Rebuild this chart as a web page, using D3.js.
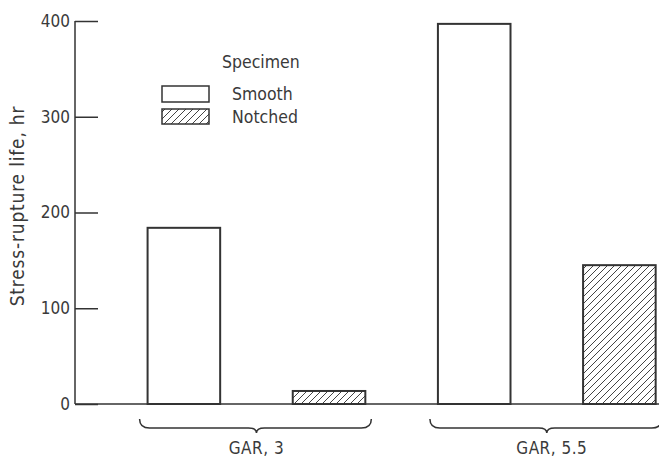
<!DOCTYPE html>
<html>
<head>
<meta charset="utf-8">
<script src="https://cdn.jsdelivr.net/npm/d3@7"></script>
<style>
  body { margin: 0; background: #fff; }
  text { font-family: "DejaVu Sans Condensed", "DejaVu Sans", sans-serif; fill: #3a3a3a; }
</style>
</head>
<body>
<svg id="chart" width="659" height="458"></svg>
<script>
// data
var groups = ["GAR, 3", "GAR, 5.5"];
var specimens = ["Smooth", "Notched"];
var smoothLife = [184, 397];
var notchedLife = [13.6, 145];
var yTicks = [0, 100, 200, 300, 400];

var ink = "#333";
var svg = d3.select("#chart");

var margin = {top: 21, left: 75, bottom: 54};
var height = 458 - margin.top - margin.bottom;

var rows = [];
groups.forEach(function(g, i) {
  rows.push({group: g, specimen: "Smooth", value: smoothLife[i]});
  rows.push({group: g, specimen: "Notched", value: notchedLife[i]});
});

var x0 = d3.scaleBand().domain(groups)
    .range([0, 653.25]).paddingInner(0.25).paddingOuter(0.25);
var x1 = d3.scaleBand().domain(specimens)
    .range([0, x0.bandwidth()]).paddingInner(0.5).paddingOuter(0);
var y = d3.scaleLinear().domain([0, 400]).range([height, 0]);

// hatch for notched
var defs = svg.append("defs");
defs.append("pattern")
    .attr("id", "hatch")
    .attr("patternUnits", "userSpaceOnUse")
    .attr("width", 7).attr("height", 7)
  .append("path")
    .attr("d", "M-1,1 l2,-2 M0,7 l7,-7 M6,8 l2,-2")
    .attr("stroke", "#444")
    .attr("stroke-width", 1);

var g = svg.append("g")
    .attr("transform", "translate(" + margin.left + "," + margin.top + ")");

// y axis, ticks pointing inward
var yAxis = d3.axisLeft(y).tickValues(yTicks).tickSize(-23).tickPadding(6);
var ax = g.append("g").attr("class", "axis axis--y").call(yAxis);
ax.select(".domain").remove();
ax.selectAll(".tick line").attr("stroke", ink).attr("stroke-width", 1.5);
ax.selectAll(".tick text")
    .attr("font-size", 17)
    .attr("x", -5)
    .style("font-family", "'DejaVu Sans Condensed', sans-serif")
    .attr("fill", "#3a3a3a");

g.append("line")
    .attr("x1", 0).attr("x2", 0)
    .attr("y1", y(400)).attr("y2", y(0))
    .attr("stroke", ink).attr("stroke-width", 1.5);

// baseline
g.append("line")
    .attr("x1", 0).attr("x2", 659 - margin.left)
    .attr("y1", y(0)).attr("y2", y(0))
    .attr("stroke", ink).attr("stroke-width", 1.5);

// bars
g.selectAll(".bar")
    .data(rows)
  .enter().append("rect")
    .attr("class", "bar")
    .attr("x", function(d) { return x0(d.group) + x1(d.specimen); })
    .attr("y", function(d) { return y(d.value); })
    .attr("width", x1.bandwidth())
    .attr("height", function(d) { return y(0) - y(d.value); })
    .attr("fill", function(d) { return d.specimen == "Notched" ? "url(#hatch)" : "#fff"; })
    .attr("stroke", ink)
    .attr("stroke-width", 2);

// braces under each group
var braceTop = y(0) + 15, braceMid = y(0) + 24, braceTip = y(0) + 29;
groups.forEach(function(grp) {
  var a = x0(grp) - 8, b = x0(grp) + x0.bandwidth() + 6;
  var c = x0(grp) + x0.bandwidth() / 2;
  var p = d3.path();
  p.moveTo(a, braceTop);
  p.quadraticCurveTo(a, braceMid, a + 10, braceMid);
  p.lineTo(c - 8, braceMid);
  p.quadraticCurveTo(c, braceMid, c, braceTip);
  p.quadraticCurveTo(c, braceMid, c + 8, braceMid);
  p.lineTo(b - 10, braceMid);
  p.quadraticCurveTo(b, braceMid, b, braceTop);
  g.append("path")
      .attr("d", p.toString())
      .attr("fill", "none")
      .attr("stroke", ink)
      .attr("stroke-width", 1.5);
  g.append("text")
      .attr("x", c + (grp == "GAR, 5.5" ? 5 : 0))
      .attr("y", y(0) + 50)
      .attr("text-anchor", "middle")
      .attr("font-size", 17)
      .style("letter-spacing", "0.5px")
      .text(grp);
});

// y label
svg.append("text")
    .attr("transform", "translate(24,206) rotate(-90)")
    .attr("text-anchor", "middle")
    .attr("font-size", 19)
    .style("letter-spacing", "0.8px")
    .text("Stress-rupture life, hr");

// legend
var legend = svg.append("g").attr("transform", "translate(162,0)");
legend.append("text")
    .attr("x", 60).attr("y", 68)
    .attr("font-size", 17.5)
    .text("Specimen");
specimens.forEach(function(s, i) {
  var yy = 86 + i * 23;
  legend.append("rect")
      .attr("x", 0).attr("y", yy)
      .attr("width", 47).attr("height", 16 - i)
      .attr("fill", s == "Notched" ? "url(#hatch)" : "#fff")
      .attr("stroke", ink)
      .attr("stroke-width", 1.5);
  legend.append("text")
      .attr("x", 70).attr("y", yy + 14)
      .attr("font-size", 17.5)
      .text(s);
});
</script>
</body>
</html>
